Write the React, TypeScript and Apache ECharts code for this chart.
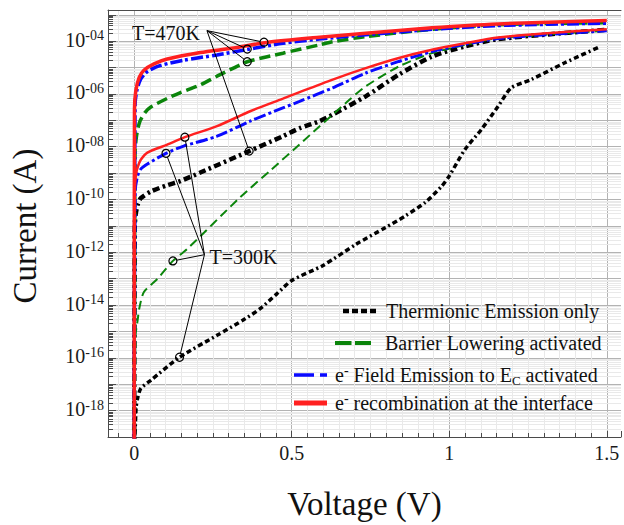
import React, { useEffect, useRef } from 'react';
import * as echarts from 'echarts';

const FONT = 'Liberation Serif, DejaVu Serif, serif';

// ---------------- data (V in volts, I in amperes) ----------------
const thermionic470V = [0, 0.002, 0.005, 0.011, 0.021, 0.053, 0.105, 0.147, 0.21, 0.365, 0.472, 0.525, 0.588, 0.63, 0.735, 0.84, 0.945, 1.05, 1.155, 1.5];
const thermionic470I = [0, 1.0e-11, 2.8e-11, 6.3e-11, 1.12e-10, 2.0e-10, 3.5e-10, 5.0e-10, 1.05e-9, 6.8e-9, 2.5e-8, 5.0e-8, 9.3e-8, 1.66e-7, 8.1e-7, 5.4e-6, 2.6e-5, 6.3e-5, 1.2e-4, 2.7e-4];

const thermionic300V = [0, 0.006, 0.011, 0.021, 0.053, 0.144, 0.263, 0.352, 0.399, 0.452, 0.5, 0.598, 0.704, 0.798, 0.861, 0.924, 0.976, 1.0, 1.05, 1.102, 1.155, 1.197, 1.26, 1.365, 1.48];
const thermionic300I = [0, 1.23e-18, 2.95e-18, 6.9e-18, 1.41e-17, 1.05e-16, 7.1e-16, 3.0e-15, 7.2e-15, 2.6e-14, 8.5e-14, 3.1e-13, 2.0e-12, 8.7e-12, 2.4e-11, 7.8e-11, 3.2e-10, 7.8e-10, 7.9e-9, 4.5e-8, 3.4e-7, 1.7e-6, 3.5e-6, 1.48e-5, 6.3e-5];

const barrier470V = [0, 0.003, 0.008, 0.018, 0.035, 0.053, 0.105, 0.147, 0.21, 0.263, 0.315, 0.359, 0.472, 0.588, 0.63, 0.735, 0.945, 1.155, 1.5];
const barrier470I = [0, 6.3e-9, 2.8e-8, 8.9e-8, 2.0e-7, 3.2e-7, 6.8e-7, 1.12e-6, 2.2e-6, 4.7e-6, 9.5e-6, 1.66e-5, 3.5e-5, 7.2e-5, 9.5e-5, 1.48e-4, 2.8e-4, 4.2e-4, 5.0e-4];

const barrier300V = [0, 0.004, 0.011, 0.016, 0.031, 0.074, 0.123, 0.168, 0.336, 0.436, 0.525, 0.683, 0.735, 0.84, 0.945, 1.05, 1.155, 1.5];
const barrier300I = [0, 6.3e-16, 2.6e-15, 7.2e-15, 3.1e-14, 9.8e-14, 4.7e-13, 1.32e-12, 1.2e-10, 1.38e-9, 1.23e-8, 6.0e-7, 1.95e-6, 1.1e-5, 3.5e-5, 7.2e-5, 1.29e-4, 2.5e-4];

const field470V = [0, 0.003, 0.008, 0.02, 0.042, 0.084, 0.157, 0.263, 0.357, 0.472, 0.588, 0.735, 0.945, 1.155, 1.5];
const field470I = [0, 4.0e-7, 1.26e-6, 3.5e-6, 7.1e-6, 1.2e-5, 1.9e-5, 3.0e-5, 4.8e-5, 8.3e-5, 1.2e-4, 1.74e-4, 2.8e-4, 3.9e-4, 4.8e-4];

const field300V = [0, 0.003, 0.011, 0.021, 0.042, 0.101, 0.157, 0.263, 0.368, 0.472, 0.525, 0.63, 0.735, 0.84, 0.945, 1.05, 1.155, 1.5];
const field300I = [0, 2.0e-10, 7.9e-10, 1.41e-9, 2.2e-9, 5.6e-9, 1.05e-8, 2.5e-8, 9.3e-8, 2.95e-7, 5.2e-7, 1.7e-6, 6.2e-6, 1.7e-5, 4.0e-5, 7.6e-5, 1.26e-4, 2.5e-4];

const recomb470V = [0, 0.001, 0.005, 0.016, 0.031, 0.063, 0.105, 0.21, 0.315, 0.42, 0.588, 0.735, 0.945, 1.155, 1.5];
const recomb470I = [0, 2.5e-7, 1.26e-6, 4.2e-6, 7.9e-6, 1.38e-5, 2.1e-5, 3.7e-5, 5.5e-5, 8.9e-5, 1.41e-4, 2.0e-4, 3.2e-4, 4.5e-4, 6.0e-4];

const recomb300V = [0, 0.002, 0.006, 0.012, 0.021, 0.042, 0.105, 0.161, 0.263, 0.368, 0.472, 0.525, 0.63, 0.735, 0.84, 0.945, 1.05, 1.155, 1.312, 1.5];
const recomb300I = [0, 2.5e-10, 8.9e-10, 1.78e-9, 3.2e-9, 6.0e-9, 1.2e-8, 2.3e-8, 6.0e-8, 2.2e-7, 6.6e-7, 1.17e-6, 3.5e-6, 9.5e-6, 2.3e-5, 4.7e-5, 8.3e-5, 1.38e-4, 2.0e-4, 2.8e-4];

// legend labels (rich-text markup for super/subscripts)
const legendLabels = [
  '{n|Thermionic Emission only}',
  '{n|Barrier Lowering activated}',
  '{n|e}{sup|-}{n| Field Emission to E}{sub|C}{n| activated}',
  '{n|e}{sup|-}{n| recombination at the interface}',
];
const seriesNames = [
  'Thermionic Emission only',
  'Barrier Lowering activated',
  'e- Field Emission to EC activated',
  'e- recombination at the interface',
];

// annotation anchors [V, I]
const label470 = 'T=470K';
const vertex470: [number, number] = [0.231, 2.5e-4];
const targets470: [number, number][] = [[0.412, 9.1e-5], [0.359, 5.0e-5], [0.359, 1.66e-5], [0.365, 6.8e-9]];
const label300 = 'T=300K';
const vertex300: [number, number] = [0.223, 8.1e-13];
const targets300: [number, number][] = [[0.101, 5.6e-9], [0.161, 2.3e-8], [0.123, 4.7e-13], [0.144, 1.05e-16]];

// axis ranges
const X_MIN = -0.083;
const X_MAX = 1.545;
const Y_MIN = -19; // log10(A)
const Y_MAX = -2.82;

// ---------------- styles ----------------
const BLACK = '#000000';
const GREEN = '#0b850b';
const BLUE = '#0a0aff';
const RED = '#ff2020';

const toLog = (i: number) => Math.log10(Math.max(i, 1e-20));
const pairs = (v: number[], i: number[]) => v.map((x, k) => [x, toLog(i[k])]);

const curves = [
  { name: seriesNames[0], v: thermionic300V, i: thermionic300I, color: BLACK, width: 3.5, dash: [5, 3, 5, 3, 2, 3] },
  { name: seriesNames[0], v: thermionic470V, i: thermionic470I, color: BLACK, width: 4.5, dash: [7, 3.5, 2.5, 3.5] },
  { name: seriesNames[1], v: barrier300V, i: barrier300I, color: GREEN, width: 2, dash: [9, 5] },
  { name: seriesNames[1], v: barrier470V, i: barrier470I, color: GREEN, width: 3.5, dash: [11, 5] },
  { name: seriesNames[2], v: field300V, i: field300I, color: BLUE, width: 3, dash: [12, 3, 3, 3] },
  { name: seriesNames[2], v: field470V, i: field470I, color: BLUE, width: 3.5, dash: [12, 3, 3, 3] },
  { name: seriesNames[3], v: recomb300V, i: recomb300I, color: RED, width: 2.5, dash: null as number[] | null },
  { name: seriesNames[3], v: recomb470V, i: recomb470I, color: RED, width: 3.5, dash: null as number[] | null },
];

const legendStyles = [
  { color: BLACK, width: 4.5, dash: [6, 3], x1: 343, x2: 376, y: 311, tx: 386 },
  { color: GREEN, width: 4, dash: [16.5, 3.5], x1: 335, x2: 371, y: 343, tx: 385 },
  { color: BLUE, width: 3.5, dash: [20, 6, 7, 6], x1: 294, x2: 327, y: 375, tx: 335 },
  { color: RED, width: 5, dash: null as number[] | null, x1: 294, x2: 327, y: 403, tx: 335 },
];

// minor log grid positions
const minorLogs: number[] = [];
for (let n = Y_MIN; n < Math.ceil(Y_MAX); n++) {
  for (let k = 2; k <= 9; k++) {
    const val = n + Math.log10(k);
    if (val < Y_MAX) minorLogs.push(val);
  }
}

const xLabel = (v: number) => {
  const r = Math.round(v * 2) / 2;
  if (Math.abs(v - r) > 1e-9) return '';
  return r === 0 ? '0' : String(r);
};
const yLabel = (v: number) => {
  const e = Math.round(v);
  if (Math.abs(v - e) > 1e-6 || e % 2 !== 0 || e < -18 || e > -4) return '';
  return `{b|10}{s|-${String(Math.abs(e)).padStart(2, '0')}}`;
};

const AX = '#4a4a4a';

const option: any = {
  animation: false,
  backgroundColor: '#ffffff',
  textStyle: { fontFamily: FONT },
  grid: { left: 107, right: 0, top: 10, bottom: 86.5, containLabel: false },
  xAxis: [
    {
      type: 'value',
      min: X_MIN,
      max: X_MAX,
      splitNumber: 3,
      minInterval: 0.5,
      maxInterval: 0.5,
      axisLine: { show: true, onZero: false, lineStyle: { color: AX, width: 1 } },
      axisTick: { show: true, inside: true, length: 6, lineStyle: { color: AX } },
      minorTick: { show: true, splitNumber: 10, length: 4, lineStyle: { color: AX } },
      splitLine: { show: true, showMinLine: false, showMaxLine: false, lineStyle: { color: '#b3b3b3', width: 1 } },
      minorSplitLine: { show: true, lineStyle: { color: '#e9e9e9', width: 1 } },
      axisLabel: { formatter: xLabel, fontFamily: FONT, fontSize: 20, color: '#1a1a1a', margin: 6 },
      name: 'Voltage (V)',
      nameLocation: 'middle',
      nameGap: 50,
      nameTextStyle: { fontFamily: FONT, fontSize: 33, color: '#111' },
    },
    {
      type: 'value',
      position: 'top',
      min: X_MIN,
      max: X_MAX,
      axisLine: { show: true, onZero: false, lineStyle: { color: AX, width: 1 } },
      axisTick: { show: false },
      axisLabel: { show: false },
      splitLine: { show: false },
    },
  ],
  yAxis: {
    type: 'value',
    min: Y_MIN,
    max: Y_MAX,
    interval: 1,
    axisLine: { show: true, onZero: false, lineStyle: { color: AX, width: 1 } },
    axisTick: { show: true, inside: true, length: 8, lineStyle: { color: AX } },
    splitLine: { show: true, showMinLine: false, showMaxLine: false, lineStyle: { color: '#b3b3b3', width: 1 } },
    axisLabel: {
      formatter: yLabel,
      margin: 4,
      fontFamily: FONT,
      padding: [0, 0, 3, 0],
      rich: {
        b: { fontFamily: FONT, fontSize: 20, lineHeight: 22, color: '#1a1a1a' },
        s: { fontFamily: FONT, fontSize: 14, lineHeight: 14, verticalAlign: 'top', color: '#1a1a1a' },
      },
    },
    name: 'Current (A)',
    nameLocation: 'middle',
    nameGap: 67,
    nameTextStyle: { fontFamily: FONT, fontSize: 33, color: '#111', padding: [0, 5, 0, 0] },
  },
  series: [
    {
      type: 'custom',
      name: 'minor-grid',
      silent: true,
      z: 1,
      xAxisIndex: 0,
      yAxisIndex: 0,
      data: minorLogs.map((v) => [X_MIN, v]),
      renderItem: (params: any, api: any) => {
        const cs = params.coordSys;
        const y = Math.round(api.coord([X_MIN, api.value(1)])[1]) + 0.5;
        return {
          type: 'group',
          children: [
            { type: 'line', shape: { x1: cs.x, y1: y, x2: cs.x + cs.width, y2: y }, style: { stroke: '#e9e9e9', lineWidth: 1 } },
            { type: 'line', shape: { x1: cs.x, y1: y, x2: cs.x + 5, y2: y }, style: { stroke: AX, lineWidth: 1 } },
          ],
        };
      },
    },
    ...curves.map((c) => ({
      type: 'line',
      name: c.name,
      xAxisIndex: 0,
      yAxisIndex: 0,
      data: pairs(c.v, c.i),
      showSymbol: false,
      symbol: 'none',
      smooth: 0.25,
      clip: true,
      z: 3,
      lineStyle: { color: c.color, width: c.width, type: c.dash ? c.dash : 'solid', cap: 'butt' },
    })),
  ],
};

export default function App() {
  const ref = useRef<HTMLDivElement>(null);
  useEffect(() => {
    if (!ref.current) return;
    const chart = echarts.init(ref.current, null, { renderer: 'svg' });
    chart.setOption(option);

    const toPx = (p: [number, number]) =>
      chart.convertToPixel({ xAxisIndex: 0, yAxisIndex: 0 }, [p[0], toLog(p[1])]) as number[];
    const R = 4;
    const annot: any[] = [];
    const addGroup = (label: string, vertex: [number, number], targets: [number, number][], side: 'left' | 'right') => {
      const v = toPx(vertex);
      targets.forEach((t) => {
        const c = toPx(t);
        const dx = c[0] - v[0];
        const dy = c[1] - v[1];
        const d = Math.sqrt(dx * dx + dy * dy) || 1;
        annot.push({
          type: 'line',
          z: 100,
          silent: true,
          shape: { x1: v[0], y1: v[1], x2: c[0] - (dx / d) * R, y2: c[1] - (dy / d) * R },
          style: { stroke: '#000', lineWidth: 1 },
        });
        annot.push({
          type: 'circle',
          z: 100,
          silent: true,
          shape: { cx: c[0], cy: c[1], r: R },
          style: { fill: 'none', stroke: '#000', lineWidth: 1.2 },
        });
      });
      annot.push({
        type: 'text',
        z: 100,
        silent: true,
        x: side === 'left' ? v[0] - 7 : v[0] + 5,
        y: v[1] + 2,
        style: {
          text: label,
          fontFamily: FONT,
          fontSize: 20,
          fill: '#111',
          align: side === 'left' ? 'right' : 'left',
          verticalAlign: 'middle',
        },
      });
    };
    addGroup(label470, vertex470, targets470, 'left');
    addGroup(label300, vertex300, targets300, 'right');

    const legend: any[] = [];
    legendStyles.forEach((s, k) => {
      legend.push({
        type: 'line',
        z: 100,
        silent: true,
        shape: { x1: s.x1, y1: s.y, x2: s.x2, y2: s.y },
        style: { stroke: s.color, lineWidth: s.width, lineDash: s.dash || undefined, lineCap: 'butt' },
      });
      legend.push({
        type: 'text',
        z: 100,
        silent: true,
        x: s.tx,
        y: s.y,
        style: {
          text: legendLabels[k],
          fontFamily: FONT,
          fontSize: 20,
          fill: '#111',
          align: 'left',
          verticalAlign: 'middle',
          rich: {
            n: { fontFamily: FONT, fontSize: 20, lineHeight: 24, fill: '#111' },
            sup: { fontFamily: FONT, fontSize: 14, lineHeight: 12, verticalAlign: 'top', fill: '#111' },
            sub: { fontFamily: FONT, fontSize: 13, lineHeight: 13, verticalAlign: 'bottom', fill: '#111' },
          },
        },
      });
    });

    chart.setOption({ graphic: [...legend, ...annot] });
    return () => chart.dispose();
  }, []);
  return <div ref={ref} style={{ position: 'fixed', left: 0, top: 0, width: 624, height: 525 }} />;
}
